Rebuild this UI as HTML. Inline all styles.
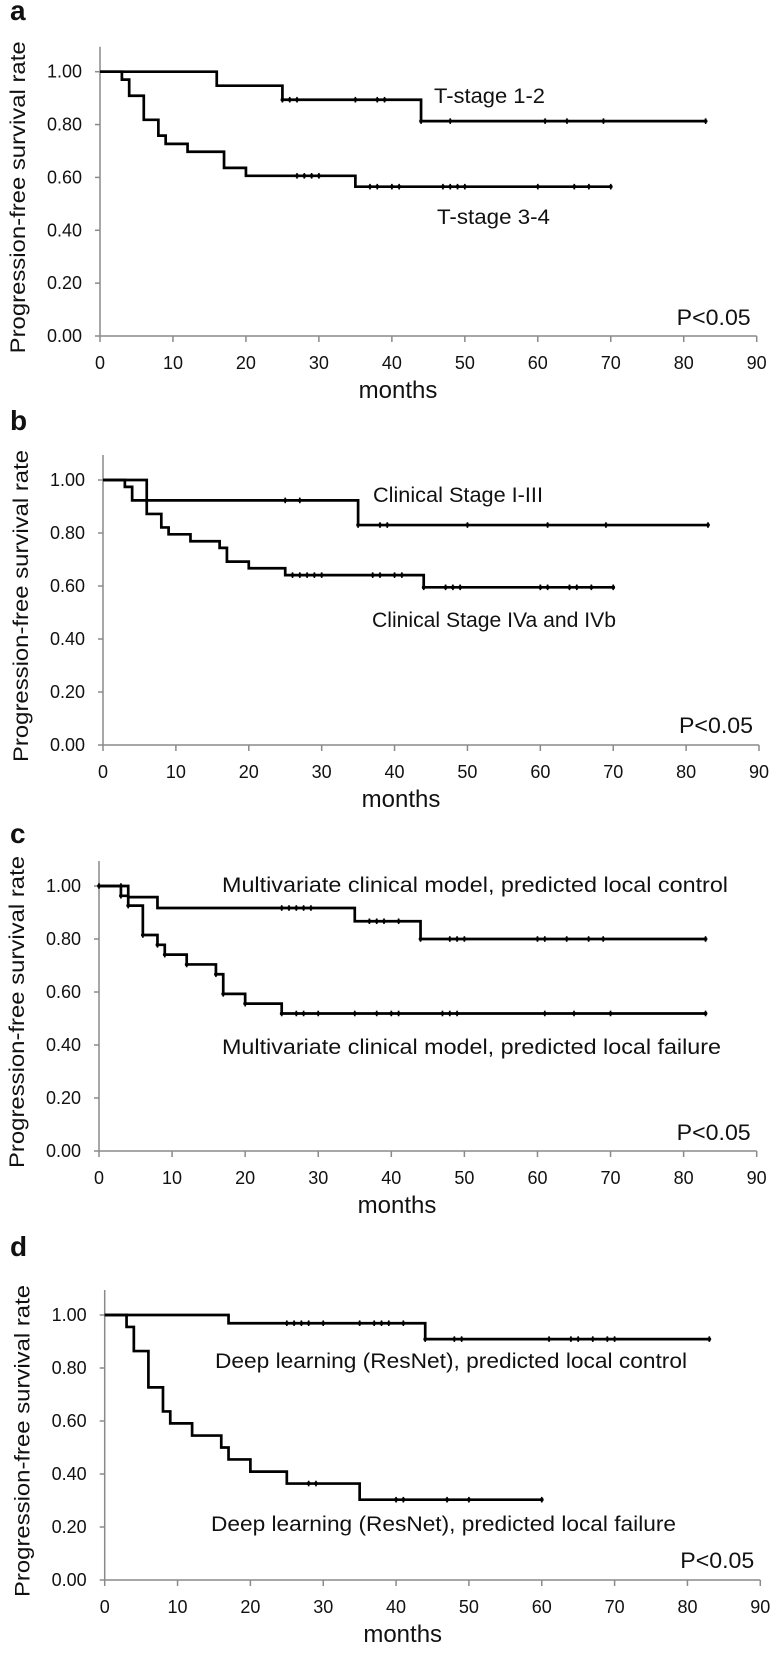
<!DOCTYPE html>
<html><head><meta charset="utf-8"><style>
html,body{margin:0;padding:0;background:#fff}
svg{display:block}
text{font-family:"Liberation Sans",sans-serif;fill:#111}
</style></head><body>
<svg id="fig" width="772" height="1653" viewBox="0 0 772 1653" xmlns="http://www.w3.org/2000/svg"></svg>
<script>
// ---- data ----
const xTickLabels = ["0","10","20","30","40","50","60","70","80","90"];
const xTickValues = [0,10,20,30,40,50,60,70,80,90];
const yTickLabels = ["0.00","0.20","0.40","0.60","0.80","1.00"];
const yTickValues = [0,0.2,0.4,0.6,0.8,1.0];

const aCtrlTimes = [16,25,44];
const aCtrlValues = [1,0.947,0.894,0.813];
const aCtrlEnd = 83;
const aCtrlCensor = [25,26,27,35,38,39,44,48,61,64,69,83];
const aFailTimes = [3,4,6,8,9,12,17,20,35];
const aFailValues = [1,0.97,0.909,0.818,0.758,0.727,0.697,0.636,0.606,0.565];
const aFailEnd = 70;
const aFailCensor = [27,28,29,30,37,38,40,41,47,48,49,50,60,65,67,70];

const bCtrlTimes = [6,35];
const bCtrlValues = [1,0.923,0.83];
const bCtrlEnd = 83;
const bCtrlCensor = [25,27,35,38,39,50,61,69,83];
const bFailTimes = [3,4,6,8,9,12,16,17,20,25,44];
const bFailValues = [1,0.974,0.923,0.872,0.821,0.795,0.769,0.744,0.692,0.667,0.641,0.595];
const bFailEnd = 70;
const bFailCensor = [26,27,28,29,30,37,38,40,41,44,47,48,49,60,61,64,65,67,70];

const cCtrlTimes = [4,8,35,44];
const cCtrlValues = [1,0.958,0.917,0.867,0.8];
const cCtrlEnd = 83;
const cCtrlCensor = [0,3,25,26,27,28,29,37,38,39,41,44,48,49,50,60,61,64,67,69,83];
const cFailTimes = [3,4,6,8,9,12,16,17,20,25];
const cFailValues = [1,0.963,0.926,0.815,0.778,0.741,0.704,0.667,0.593,0.556,0.519];
const cFailEnd = 83;
const cFailCensor = [3,4,6,8,9,12,16,17,20,25,27,28,30,35,38,40,41,47,48,49,61,65,70,83];

const dCtrlTimes = [17,44];
const dCtrlValues = [1,0.969,0.909];
const dCtrlEnd = 83;
const dCtrlCensor = [25,26,27,28,30,35,37,38,39,41,44,48,49,61,64,65,67,69,70,83];
const dFailTimes = [3,4,6,8,9,12,16,17,20,25,35];
const dFailValues = [1,0.955,0.864,0.727,0.636,0.591,0.545,0.5,0.455,0.409,0.364,0.303];
const dFailEnd = 60;
const dFailCensor = [28,29,40,41,47,50,60];

// ---- layout ----
const panels = [
 {id:"a", x0:100, x90:756.7, y1:71.7, y0:336, top:46.7, letterY:20,
  ctrl:[aCtrlTimes,aCtrlValues,aCtrlEnd,aCtrlCensor], fail:[aFailTimes,aFailValues,aFailEnd,aFailCensor],
  labels:[["T-stage 1-2",434,103,111],["T-stage 3-4",437,224,113]], pY:325},
 {id:"b", x0:103, x90:759, y1:480, y0:745, top:455, letterY:430,
  ctrl:[bCtrlTimes,bCtrlValues,bCtrlEnd,bCtrlCensor], fail:[bFailTimes,bFailValues,bFailEnd,bFailCensor],
  labels:[["Clinical Stage I-III",373,502,170],["Clinical Stage IVa and IVb",372,627,244]], pY:733},
 {id:"c", x0:99, x90:756.7, y1:886, y0:1151, top:861, letterY:843,
  ctrl:[cCtrlTimes,cCtrlValues,cCtrlEnd,cCtrlCensor], fail:[cFailTimes,cFailValues,cFailEnd,cFailCensor],
  labels:[["Multivariate clinical model, predicted local control",222,892,506],["Multivariate clinical model, predicted local failure",222,1054,499]], pY:1140},
 {id:"d", x0:104.7, x90:760.3, y1:1315, y0:1580, top:1290, letterY:1256,
  ctrl:[dCtrlTimes,dCtrlValues,dCtrlEnd,dCtrlCensor], fail:[dFailTimes,dFailValues,dFailEnd,dFailCensor],
  labels:[["Deep learning (ResNet), predicted local control",215,1368,472],["Deep learning (ResNet), predicted local failure",211,1531,465]], pY:1568}
];
const NS="http://www.w3.org/2000/svg";
const svg=document.getElementById("fig");
function mk(tag,attrs,parent){const e=document.createElementNS(NS,tag);for(const k in attrs)e.setAttribute(k,attrs[k]);(parent||svg).appendChild(e);return e;}

panels.forEach(p=>{
  const g=mk("g",{});
  
  
  const xs=m=>p.x0+(p.x90-p.x0)*m/90;
  const ys=v=>p.y0-(p.y0-p.y1)*v;
  const L=mk("text",{x:10,y:p.letterY,"font-size":28,"font-weight":"bold"},g);
  L.textContent=p.id;
  
  
  const ya=mk("line",{x1:p.x0,y1:p.top,x2:p.x0,y2:p.y0,stroke:"#8a8a8a","stroke-width":1.5},g);
  
  
  const xa=mk("line",{x1:p.x0,y1:p.y0,x2:p.x90,y2:p.y0,stroke:"#8a8a8a","stroke-width":1.5},g);
  
  
  yTickValues.forEach((v,i)=>{
    mk("line",{x1:p.x0-5,y1:ys(v),x2:p.x0,y2:ys(v),stroke:"#8a8a8a","stroke-width":1.5},g);
    const t=mk("text",{x:p.x0-18,y:ys(v)+6,"font-size":18,"text-anchor":"end"},g);
    t.textContent=yTickLabels[i];
    
    
  });
  xTickValues.forEach((v,i)=>{
    mk("line",{x1:xs(v),y1:p.y0,x2:xs(v),y2:p.y0+6,stroke:"#8a8a8a","stroke-width":1.5},g);
    const t=mk("text",{x:xs(v),y:p.y0+33,"font-size":18,"text-anchor":"middle"},g);
    t.textContent=xTickLabels[i];
    
    
  });
  const xt=mk("text",{x:p.x0+298,y:p.y0+62,"font-size":24,"text-anchor":"middle"},g);
  xt.textContent="months";
  
  
  const yc=(p.top+p.y0)/2+6, yx=p.x0-75;
  const yt=mk("text",{x:0,y:0,"font-size":21,"text-anchor":"middle",textLength:312,lengthAdjust:"spacingAndGlyphs",transform:`translate(${yx},${yc}) rotate(-90)`},g);
  yt.textContent="Progression-free survival rate";
  
  
  [["ctrl",p.ctrl],["fail",p.fail]].forEach(([nm,s])=>{
    const [times,vals,end,cens]=s;
    let d=`M${xs(0)},${ys(vals[0])}`;
    times.forEach((t,i)=>{d+=` H${xs(t)} V${ys(vals[i+1])}`;});
    d+=` H${xs(end)}`;
    const path=mk("path",{d:d,fill:"none",stroke:"#000","stroke-width":2.7,"stroke-linejoin":"miter"},g);
    
    
    const valAt=m=>{let v=vals[0];times.forEach((t,i)=>{if(m>=t)v=vals[i+1];});return v;};
    cens.forEach(c=>{
      const cy=ys(valAt(c));
      const cm=mk("line",{x1:xs(c),y1:cy-2.8,x2:xs(c),y2:cy+2.8,stroke:"#000","stroke-width":1.6},g);
      
      
      const cd=mk("circle",{cx:xs(c),cy:cy,r:1.9,fill:"#000"},g);
      
      
    });
  });
  p.labels.forEach((l,i)=>{
    const t=mk("text",{x:l[1],y:l[2],"font-size":21,textLength:l[3],lengthAdjust:"spacingAndGlyphs"},g);
    t.textContent=l[0];
    
    
  });
  const pv=mk("text",{x:p.x90-6,y:p.pY,"font-size":22,"text-anchor":"end",textLength:74,lengthAdjust:"spacingAndGlyphs"},g);
  pv.textContent="P<0.05";
  
  
});
</script>
</body></html>
